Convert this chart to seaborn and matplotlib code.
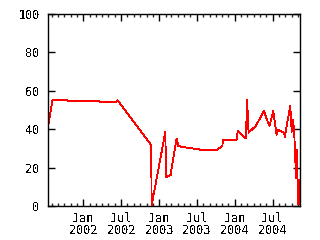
import matplotlib
matplotlib.use("Agg")
import matplotlib.pyplot as plt
import matplotlib.dates as mdates
import seaborn as sns
import pandas as pd

dates = ["2001-07-14", "2001-08-04", "2001-10-16", "2001-10-18", "2002-03-18",
         "2002-03-20", "2002-06-07", "2002-06-15", "2002-11-23", "2002-11-26",
         "2003-01-31", "2003-02-03", "2003-02-25", "2003-03-26", "2003-04-03",
         "2003-05-08", "2003-07-15", "2003-07-17", "2003-10-04", "2003-11-02",
         "2003-11-04", "2004-01-09", "2004-01-15", "2004-01-29", "2004-02-23",
         "2004-02-29", "2004-03-07", "2004-04-11", "2004-05-21", "2004-05-29",
         "2004-06-16", "2004-07-04", "2004-07-20", "2004-07-28", "2004-08-26",
         "2004-08-28", "2004-09-24", "2004-10-01", "2004-10-07", "2004-10-13",
         "2004-10-22", "2004-10-27", "2004-10-30", "2004-11-07", "2004-11-10"]
values = [41.0, 55.0, 55.0, 54.5, 54.5,
          54.0, 54.0, 55.0, 31.8, 0.5,
          38.7, 14.9, 16.1, 35.2, 31.2,
          30.5, 29.5, 29.0, 29.0, 31.4,
          34.2, 34.2, 39.1, 37.5, 35.2,
          55.2, 38.2, 41.7, 49.6, 46.5,
          41.7, 49.6, 37.0, 39.6, 38.2,
          35.8, 52.1, 38.7, 45.1, 38.7,
          14.4, 29.2, 1.0, 13.5, 1.2]
y_ticks = [0, 20, 40, 60, 80, 100]

df = pd.DataFrame({"date": pd.to_datetime(dates), "value": values})

sns.set_style("ticks")
plt.rcParams["font.family"] = ["DejaVu Sans Mono"]
plt.rcParams["text.antialiased"] = False

fig = plt.figure(figsize=(3.2, 2.4), dpi=100)
ax = fig.add_axes([48 / 320, 34 / 240, 252 / 320, 192 / 240])
sns.lineplot(data=df, x="date", y="value", ax=ax, color="#ff0000",
             linewidth=0.6, antialiased=False)

ax.set_xlim(df["date"].min(), df["date"].max())
ax.set_ylim(0, 100)
ax.set_yticks(y_ticks)
ax.set_xlabel("")
ax.set_ylabel("")

ax.xaxis.set_major_locator(mdates.MonthLocator(bymonth=[1, 7]))
ax.xaxis.set_major_formatter(mdates.DateFormatter("%b\n%Y"))
ax.xaxis.set_minor_locator(mdates.MonthLocator())

for s in ax.spines.values():
    s.set_color("black")
    s.set_linewidth(1.0)

ax.tick_params(axis="y", which="major", direction="in", length=5, width=1,
               left=True, right=True, labelsize=8.5, colors="black", pad=6)
ax.tick_params(axis="x", which="major", direction="in", length=5, width=1,
               top=True, bottom=True, labelsize=8.5, colors="black", pad=4)
ax.tick_params(axis="x", which="minor", direction="in", length=2.5, width=1,
               top=True, bottom=True)
for lab in ax.get_xticklabels():
    lab.set_linespacing(0.95)

fig.savefig("out.png", dpi=100, facecolor="white")
